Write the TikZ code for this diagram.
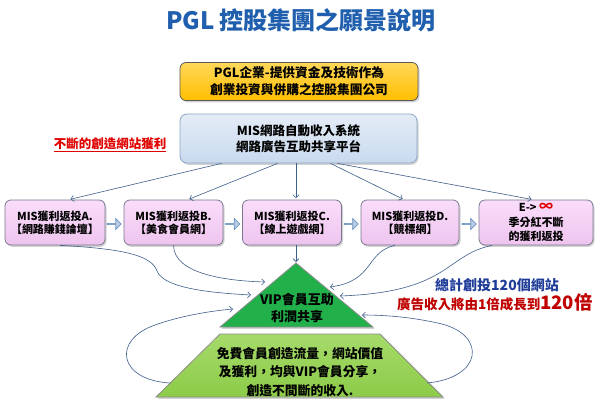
\documentclass[tikz,border=0pt]{standalone}
\usepackage{fontspec}
\setmainfont{Noto Sans CJK TC}
\usetikzlibrary{arrows.meta,shapes.arrows,shadows}
\definecolor{titleblue}{HTML}{1F5FAD}
\definecolor{ytop}{HTML}{FFD85A}
\definecolor{ybot}{HTML}{FFBE00}
\definecolor{btop}{HTML}{E4ECF6}
\definecolor{bbot}{HTML}{C9DAEE}
\definecolor{bborder}{HTML}{8CA6C6}
\definecolor{ptop}{HTML}{FADDFA}
\definecolor{pbot}{HTML}{EEC4EE}
\definecolor{pborder}{HTML}{7A7890}
\definecolor{conncol}{HTML}{3E5F8A}
\definecolor{arrfill}{HTML}{B8CCE4}
\definecolor{arrdraw}{HTML}{5B85B8}
\definecolor{trigreen}{HTML}{22B04B}
\definecolor{traptop}{HTML}{A6DA6A}
\definecolor{trapbot}{HTML}{8CCB48}
\definecolor{sloganred}{HTML}{E00000}
\definecolor{adred}{HTML}{C00000}
\definecolor{totblue}{HTML}{1F3C99}
\begin{document}
\begin{tikzpicture}[x=1pt,y=-1pt,
  shadowed/.style={drop shadow={opacity=0.35,shadow xshift=1.5pt,shadow yshift=-1.8pt}},
  yellowbox/.style={draw=black!65,line width=0.8pt,rounded corners=6pt,top color=ytop,bottom color=ybot,shadowed,
    minimum width=238pt,minimum height=38pt,align=center,inner sep=0pt,font=\bfseries\fontsize{12.7}{17}\selectfont},
  misbox/.style={draw=bborder,line width=0.8pt,rounded corners=7pt,top color=btop,bottom color=bbot,shadowed,
    minimum width=237pt,minimum height=49pt,align=center,inner sep=0pt,font=\bfseries\fontsize{12.5}{16}\selectfont},
  pinkbox/.style={draw=pborder,line width=0.8pt,rounded corners=6pt,top color=ptop,bottom color=pbot,shadowed,
    minimum height=45pt,align=center,inner sep=0pt,font=\bfseries\fontsize{11}{13}\selectfont},
  blockarrow/.style={single arrow,draw=arrdraw,fill=arrfill,line width=0.6pt,minimum height=14pt,minimum width=11pt,
    single arrow head extend=2.5pt,inner sep=0pt},
  conn/.style={draw=conncol,line width=0.6pt,-{Straight Barb[length=3pt,width=6pt]}},
  label/.style={align=center,inner sep=0pt}]
\useasboundingbox[fill=white] (0,0) rectangle (600,402);

% title
\node[label,text=titleblue,font=\bfseries\fontsize{24}{24}\selectfont] (title) at (301,20) {PGL 控股集團之願景說明};

% top boxes
\node[yellowbox] (y) at (299,81.5) {PGL企業-提供資金及技術作為\\創業投資與併購之控股集團公司};
\node[misbox] (m) at (298.5,138.5) {MIS網路自動收入系統\\網路廣告互助共享平台};
\node[label,text=sloganred,font=\bfseries\fontsize{12.5}{14}\selectfont] (slogan) at (110,145) {\underline{不斷的創造網站獲利}};

% pink boxes
\node[pinkbox,minimum width=100pt] (b1) at (55,222.5) {MIS獲利返投A.\\【網路賺錢論壇】};
\node[pinkbox,minimum width=99pt] (b2) at (173.5,222.5) {MIS獲利返投B.\\【美食會員網】};
\node[pinkbox,minimum width=99pt] (b3) at (292,222.5) {MIS獲利返投C.\\【線上遊戲網】};
\node[pinkbox,minimum width=98pt] (b4) at (410,222.5) {MIS獲利返投D.\\【競標網】};
\node[pinkbox,minimum width=114pt,font=\bfseries\fontsize{11}{14.5}\selectfont] (b5) at (536,222.5) {E-> {\color{sloganred}\fontsize{14}{14}\selectfont ∞}\\季分紅不斷\\的獲利返投};

% block arrows between boxes
\node[blockarrow] (a12) at (114,224) {};
\node[blockarrow] (a23) at (232.5,224) {};
\node[blockarrow] (a34) at (351,224) {};
\node[blockarrow] (a45) at (469,224) {};

% pyramid
\draw[draw=black!45,line width=0.8pt,top color=traptop,bottom color=trapbot,shadowed]
  (220,334) -- (380,334) -- (443,397) -- (156,397) -- cycle;
\draw[draw=black!45,line width=0.8pt,fill=trigreen,shadowed]
  (296,263) -- (373,327) -- (220,327) -- cycle;
\node[label,font=\bfseries\fontsize{13}{17}\selectfont] (vip) at (297,307.5) {VIP會員互助\\利潤共享};
\node[label,font=\bfseries\fontsize{12.8}{18.5}\selectfont] (free) at (300,372) {免費會員創造流量，網站價值\\及獲利，均與VIP會員分享，\\創造不間斷的收入.};

% right texts
\node[label,text=totblue,font=\bfseries\fontsize{14}{14}\selectfont] (tot) at (497,285) {總計創投120個網站};
\node[label,text=adred,font=\bfseries\fontsize{13.5}{14}\selectfont] (ad) at (495,302) {廣告收入將由1倍成長到{\fontsize{18.5}{18}\selectfont 120倍}};

% connector end points
\coordinate (e1) at (251,295);
\coordinate (e2) at (265,282);
\coordinate (e3) at (296,262);
\coordinate (e4) at (330,287);
\coordinate (e5) at (340,296);
\coordinate (e6) at (233,309);
\coordinate (e7) at (362,315);
\coordinate (ls) at (170,383);
\coordinate (rs) at (427,383);

% MIS to boxes
\draw[conn,shorten >=1.5pt] ([xshift=-77pt]m.south) -- ([xshift=14pt]b1.north);
\draw[conn,shorten >=1.5pt] ([xshift=-21pt]m.south) -- ([xshift=14.5pt]b2.north);
\draw[conn,shorten >=1.5pt] ([xshift=-2.5pt]m.south) -- ([xshift=4pt]b3.north);
\draw[conn,shorten >=1.5pt] ([xshift=32pt]m.south) -- ([xshift=-6pt]b4.north);
\draw[conn,shorten >=1.5pt] ([xshift=39pt]m.south) -- ([xshift=-3pt]b5.north);

% boxes to pyramid
\draw[conn] ([xshift=5pt]b1.south) .. controls (130,249) and (152,257) .. (157,271) .. controls (164,289) and (215,293) .. (e1);
\draw[conn] (b2.south) .. controls (174,275) and (230,281) .. (e2);
\draw[conn] ([xshift=4pt]b3.south) -- (e3);
\draw[conn] ([xshift=-15pt]b4.south) .. controls (365,252) and (375,281) .. (e4);
\draw[conn] ([xshift=-44pt]b5.south) .. controls (445,255) and (450,292) .. (e5);

% loops
\draw[conn] (ls) .. controls (118,380) and (112,340) .. (155,325) .. controls (180,316) and (210,311) .. (e6);
\draw[conn] (rs) .. controls (482,378) and (487,336) .. (442,324) .. controls (412,317) and (385,315) .. (e7);
\end{tikzpicture}
\end{document}
